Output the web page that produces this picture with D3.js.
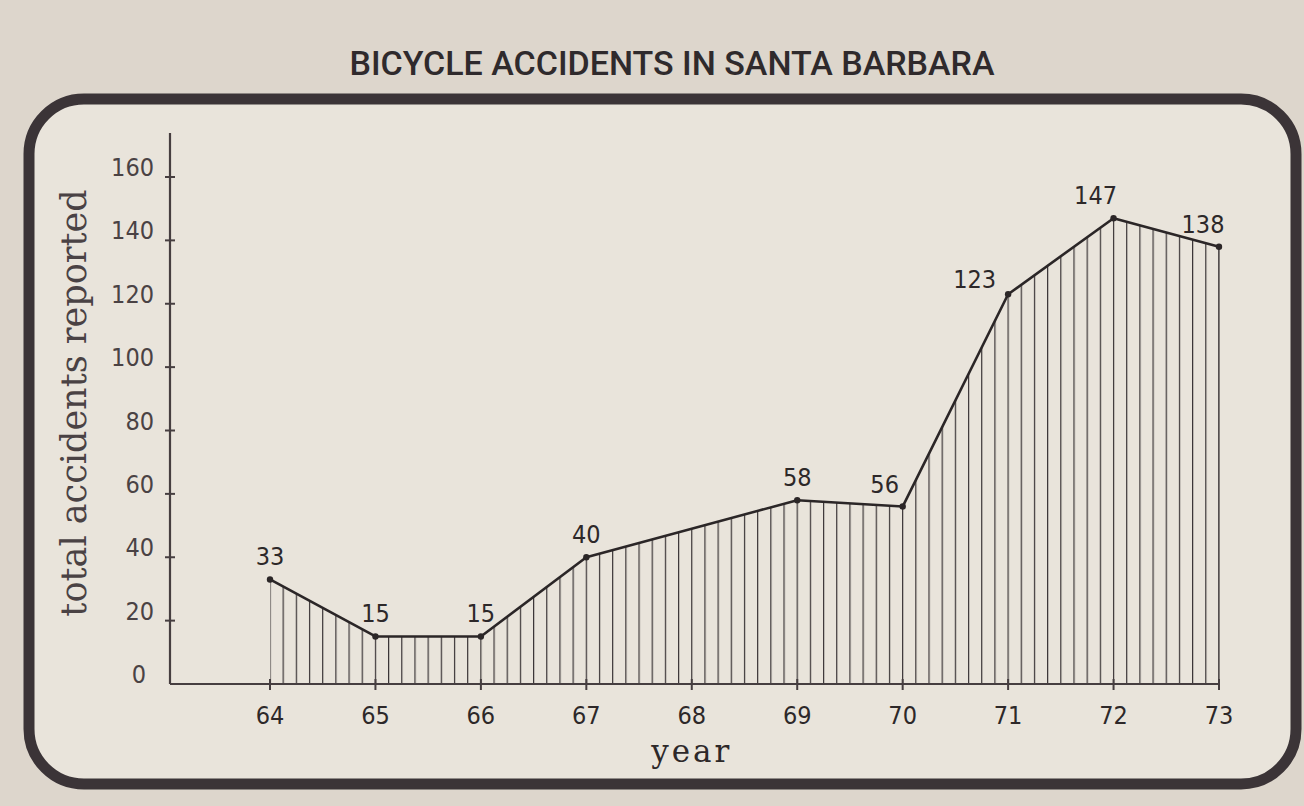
<!DOCTYPE html>
<html>
<head>
<meta charset="utf-8">
<script src="https://cdn.jsdelivr.net/npm/d3@7"></script>
<style>
  html, body { margin: 0; padding: 0; background: #dcd5cb; }
  svg { display: block; }
  .hand { font-family: "DejaVu Sans Condensed", "DejaVu Sans", sans-serif; fill: #2d2829; }
  .serif { font-family: "DejaVu Serif", serif; fill: #4a4244; }
</style>
</head>
<body>
<script>
// Bicycle accidents in Santa Barbara

// data
var years = [64, 65, 66, 67, 68, 69, 70, 71, 72, 73];        // x tick labels
var dataYears = [64, 65, 66, 67, 69, 70, 71, 72, 73];        // years with a reported total
var accidents = [33, 15, 15, 40, 58, 56, 123, 147, 138];     // total accidents reported
var yTicks = [0, 20, 40, 60, 80, 100, 120, 140, 160];

var svgWidth = 1304, svgHeight = 806;

var svg = d3.select("body").append("svg")
    .attr("width", svgWidth)
    .attr("height", svgHeight);

// paper + frame
svg.append("rect")
    .attr("width", svgWidth).attr("height", svgHeight)
    .attr("fill", "#ddd6cc");

svg.append("rect")
    .attr("x", 29).attr("y", 99)
    .attr("width", 1267).attr("height", 685)
    .attr("rx", 55).attr("ry", 55)
    .attr("fill", "#e9e4db")
    .attr("stroke", "#3b3437")
    .attr("stroke-width", 11);

// title
svg.append("text")
    .attr("x", 672).attr("y", 75)
    .attr("text-anchor", "middle")
    .style("font-family", "Roboto, 'Liberation Sans', sans-serif")
    .style("font-weight", 500)
    .style("font-size", "34px")
    .style("fill", "#2f2a2c")
    .text("BICYCLE ACCIDENTS IN SANTA BARBARA");

// scales
var xScale = d3.scaleLinear().domain([64, 73]).range([270, 1219]);
var yScale = d3.scaleLinear().domain([0, 160]).range([684, 177]);
var axisX0 = 170;

var data = dataYears.map(function(yr, i) { return {year: yr, value: accidents[i]}; });

// vertical hatch pattern (8 strokes per year)
var step = (xScale(65) - xScale(64)) / 8;
var defs = svg.append("defs");
var pattern = defs.append("pattern")
    .attr("id", "hatch")
    .attr("patternUnits", "userSpaceOnUse")
    .attr("x", xScale(64) - 0.6)
    .attr("y", 0)
    .attr("width", step)
    .attr("height", svgHeight);
pattern.append("line")
    .attr("x1", 0.6).attr("x2", 0.6)
    .attr("y1", 0).attr("y2", svgHeight)
    .attr("stroke", "#3a3436")
    .attr("stroke-width", 1.2);

var area = d3.area()
    .x(function(d) { return xScale(d.year); })
    .y0(yScale(0))
    .y1(function(d) { return yScale(d.value); });

svg.append("path")
    .datum(data)
    .attr("d", area)
    .attr("fill", "url(#hatch)");

// last hatch stroke at 73
svg.append("line")
    .attr("x1", xScale(73)).attr("x2", xScale(73))
    .attr("y1", yScale(0)).attr("y2", yScale(accidents[accidents.length - 1]))
    .attr("stroke", "#3a3436").attr("stroke-width", 1.2);

// axes (hand drawn look: line + crossing ticks)
var axisColor = "#463e40";
svg.append("line")
    .attr("x1", axisX0).attr("x2", axisX0)
    .attr("y1", yScale(0)).attr("y2", 133)
    .attr("stroke", axisColor).attr("stroke-width", 2.2);
svg.append("line")
    .attr("x1", axisX0).attr("x2", xScale(73))
    .attr("y1", yScale(0)).attr("y2", yScale(0))
    .attr("stroke", axisColor).attr("stroke-width", 2.2);

svg.selectAll(".ytick")
    .data(yTicks.filter(function(t) { return t > 0; }))
    .enter().append("line")
    .attr("class", "ytick")
    .attr("x1", axisX0 - 5).attr("x2", axisX0 + 5)
    .attr("y1", function(d) { return yScale(d); })
    .attr("y2", function(d) { return yScale(d); })
    .attr("stroke", axisColor).attr("stroke-width", 2);

svg.selectAll(".ylab")
    .data(yTicks)
    .enter().append("text")
    .attr("class", "hand")
    .attr("x", function(d) { return d === 0 ? 146 : 154; })
    .attr("y", function(d) { return yScale(d) - 1; })
    .attr("text-anchor", "end")
    .style("font-size", "25px")
    .style("fill", "#4a4244")
    .text(function(d) { return d; });

svg.selectAll(".xtick")
    .data(years)
    .enter().append("line")
    .attr("class", "xtick")
    .attr("x1", function(d) { return xScale(d); })
    .attr("x2", function(d) { return xScale(d); })
    .attr("y1", yScale(0) - 5).attr("y2", yScale(0) + 6)
    .attr("stroke", axisColor).attr("stroke-width", 2);

svg.selectAll(".xlab")
    .data(years)
    .enter().append("text")
    .attr("class", "hand")
    .attr("x", function(d) { return xScale(d); })
    .attr("y", 724)
    .attr("text-anchor", "middle")
    .style("font-size", "25px")
    .text(function(d) { return d; });

// axis titles
svg.append("text")
    .attr("class", "serif")
    .attr("text-anchor", "middle")
    .attr("transform", "translate(86,403)rotate(-90)")
    .style("font-size", "35px")
    .text("total accidents reported");

svg.append("text")
    .attr("class", "serif")
    .attr("x", xScale(68)).attr("y", 762)
    .attr("text-anchor", "middle")
    .style("font-size", "31px")
    .style("letter-spacing", "3px")
    .style("fill", "#2d2829")
    .text("year");

// line + points
var line = d3.line()
    .x(function(d) { return xScale(d.year); })
    .y(function(d) { return yScale(d.value); });

svg.append("path")
    .datum(data)
    .attr("d", line)
    .attr("fill", "none")
    .attr("stroke", "#2b2627")
    .attr("stroke-width", 2.6)
    .attr("stroke-linejoin", "round");

svg.selectAll(".dot")
    .data(data)
    .enter().append("circle")
    .attr("class", "dot")
    .attr("r", 3.2)
    .attr("cx", function(d) { return xScale(d.year); })
    .attr("cy", function(d) { return yScale(d.value); })
    .attr("fill", "#2b2627");

// value labels
svg.selectAll(".vlab")
    .data(data)
    .enter().append("text")
    .attr("class", "hand")
    .attr("x", function(d) {
        if (d.year === 71) return xScale(d.year) - 12;
        if (d.year === 73) return xScale(d.year) - 16;
        if (d.year === 72 || d.year === 70) return xScale(d.year) - 18;
        return xScale(d.year);
    })
    .attr("y", function(d) { return yScale(d.value) - (d.year === 71 ? 6 : 14); })
    .attr("text-anchor", function(d) { return d.year === 71 ? "end" : "middle"; })
    .style("font-size", "25px")
    .text(function(d) { return d.value; });
</script>
</body>
</html>
